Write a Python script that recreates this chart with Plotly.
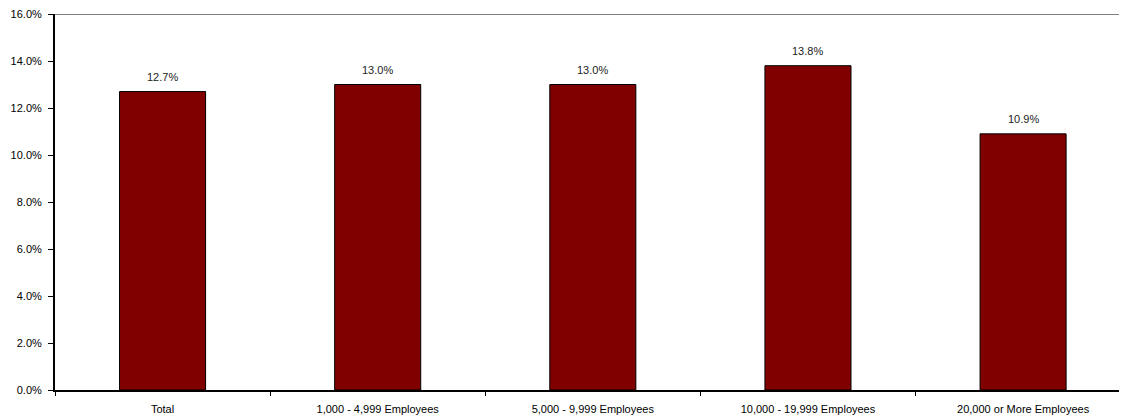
import plotly.graph_objects as go

categories = ["Total", "1,000 - 4,999 Employees", "5,000 - 9,999 Employees",
              "10,000 - 19,999 Employees", "20,000 or More Employees"]
values = [12.7, 13.0, 13.0, 13.8, 10.9]
y_ticks = [0, 2, 4, 6, 8, 10, 12, 14, 16]

FONT = "Liberation Sans, Arial, sans-serif"

fig = go.Figure(go.Bar(
    x=categories, y=values, width=0.4,
    marker=dict(color="#800000", line=dict(color="black", width=1)),
    cliponaxis=False,
))

for c, v in zip(categories, values):
    fig.add_annotation(x=c, y=v, text=f"{v:.1f}%", showarrow=False,
                       yanchor="bottom", yshift=7,
                       font=dict(family=FONT, size=11, color="#222222"))

fig.update_layout(
    width=1119, height=411,
    margin=dict(l=47, r=0, t=6, b=29),
    paper_bgcolor="white", plot_bgcolor="white",
    showlegend=False,
    font=dict(family=FONT, size=11, color="black"),
    xaxis=dict(
        range=[-0.5, 4.483], showline=True, linecolor="black", linewidth=2,
        ticks="outside", tickson="boundaries", ticklen=4, tickcolor="black",
        showgrid=False, tickfont=dict(size=11, family=FONT),
        ticklabelstandoff=8,
    ),
    yaxis=dict(
        range=[0, 16], tickvals=y_ticks, ticktext=[f"{t:.1f}%" for t in y_ticks],
        showline=True, linecolor="black", linewidth=2,
        ticks="outside", ticklen=5, tickcolor="black", showgrid=False,
        zeroline=False, tickfont=dict(size=11, family=FONT),
        ticklabelstandoff=4, ticklabeloverflow="allow",
    ),
    shapes=[dict(type="line", xref="paper", yref="y", x0=0, x1=1, y0=16, y1=16,
                 line=dict(color="#808080", width=2))],
    bargap=0.6,
)

fig.write_html("out.html")
